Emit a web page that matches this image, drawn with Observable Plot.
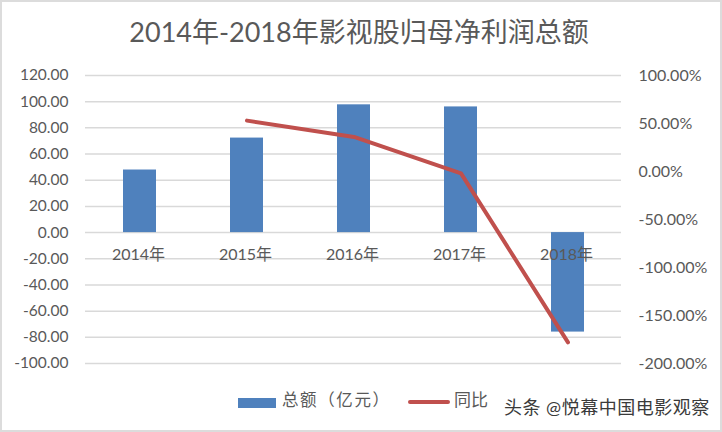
<!DOCTYPE html>
<html lang="zh">
<head>
<meta charset="utf-8">
<script src="https://cdn.jsdelivr.net/npm/d3@7"></script>
<script src="https://cdn.jsdelivr.net/npm/@observablehq/plot@0.6"></script>
<style>
html,body{margin:0;padding:0;background:#fff;}
body{width:722px;height:432px;overflow:hidden;position:relative;font-family:Lato,"Noto Sans CJK SC",sans-serif;color:#595959;}
#frame{position:absolute;left:0;top:0;width:718px;height:428px;border:2px solid #dcdcdc;pointer-events:none;}
#title{position:absolute;left:0;top:0;width:718px;height:60px;line-height:64px;text-align:center;font-size:27px;color:#595959;}
#chart{position:absolute;left:0;top:60px;}
#chart svg{display:block;background:transparent;}
.lg{position:absolute;font-size:16px;line-height:20px;white-space:nowrap;}
.sw{position:absolute;}
#mark{position:absolute;left:504px;top:397px;font-size:18px;letter-spacing:.5px;line-height:20px;color:#3a3a3a;white-space:nowrap;}
</style>
</head>
<body>
<div id="title">2014年-2018年影视股归母净利润总额</div>
<div id="chart"></div>
<div class="sw" style="left:238px;top:398px;width:38px;height:10px;background:#4f81bd"></div>
<div class="lg" style="left:282px;top:390px;letter-spacing:1.6px;font-size:16.5px">总额（亿元）</div>
<div class="sw" style="left:408px;top:400px;width:42px;height:4px;border-radius:2px;background:#c0504d"></div>
<div class="lg" style="left:454px;top:390px;font-size:17px">同比</div>
<div id="mark">头条 @悦幕中国电影观察</div>
<div id="frame"></div>
<script>
const years = ["2014年","2015年","2016年","2017年","2018年"];
const totals = [47.8, 72.2, 97.6, 96, -76];
const yoyYears = ["2015年","2016年","2017年","2018年"];
const yoy = [53, 36, -2, -178];
const leftTicks = [120,100,80,60,40,20,0,-20,-40,-60,-80,-100];
const rightTicks = [100,50,0,-50,-100,-150,-200];

// secondary axis: -200%..100% maps onto the primary domain -100..120
const toPrimary = d3.scaleLinear().domain([-200,100]).range([-100,120]);
const toPct = toPrimary.invert;

const barRows = years.map((year,i)=>({year,value:totals[i]}));
const lineRows = yoyYears.map((year,i)=>({year,value:toPrimary(yoy[i])}));
const grey = "#595959";

const chart = Plot.plot({
  width:722, height:322,
  marginLeft:85, marginRight:101, marginTop:15, marginBottom:19,
  style:{fontFamily:'Lato,"Noto Sans CJK SC",sans-serif',fontSize:"16px",color:grey,background:"transparent"},
  x:{domain:years,padding:0,label:null,axis:null},
  y:{domain:[-100,120],label:null},
  marks:[
    Plot.ruleY(leftTicks,{stroke:"#d9d9d9",strokeWidth:1.5}),
    Plot.barY(barRows,{x:"year",y:"value",fill:"#4f81bd",insetLeft:37,insetRight:37}),
    Plot.text(years,{x:d=>d,y:()=>0,dy:22,dx:-1.5,text:d=>d,fill:grey,fontSize:16}),
    Plot.line(lineRows,{x:"year",y:"value",stroke:"#c0504d",strokeWidth:4,strokeLinecap:"round",strokeLinejoin:"round"}),
    Plot.axisY(leftTicks,{anchor:"left",tickSize:0,tickPadding:17,tickFormat:d=>d3.format(".2f")(d).replace("−","-"),fill:grey,fontSize:15.5,label:null}),
    Plot.axisY(rightTicks.map(toPrimary),{anchor:"right",tickSize:0,tickPadding:17,tickFormat:d=>d3.format(".2f")(toPct(d)).replace("−","-")+"%",fill:grey,fontSize:16,label:null})
  ]
});
document.getElementById("chart").appendChild(chart);
</script>
</body>
</html>
